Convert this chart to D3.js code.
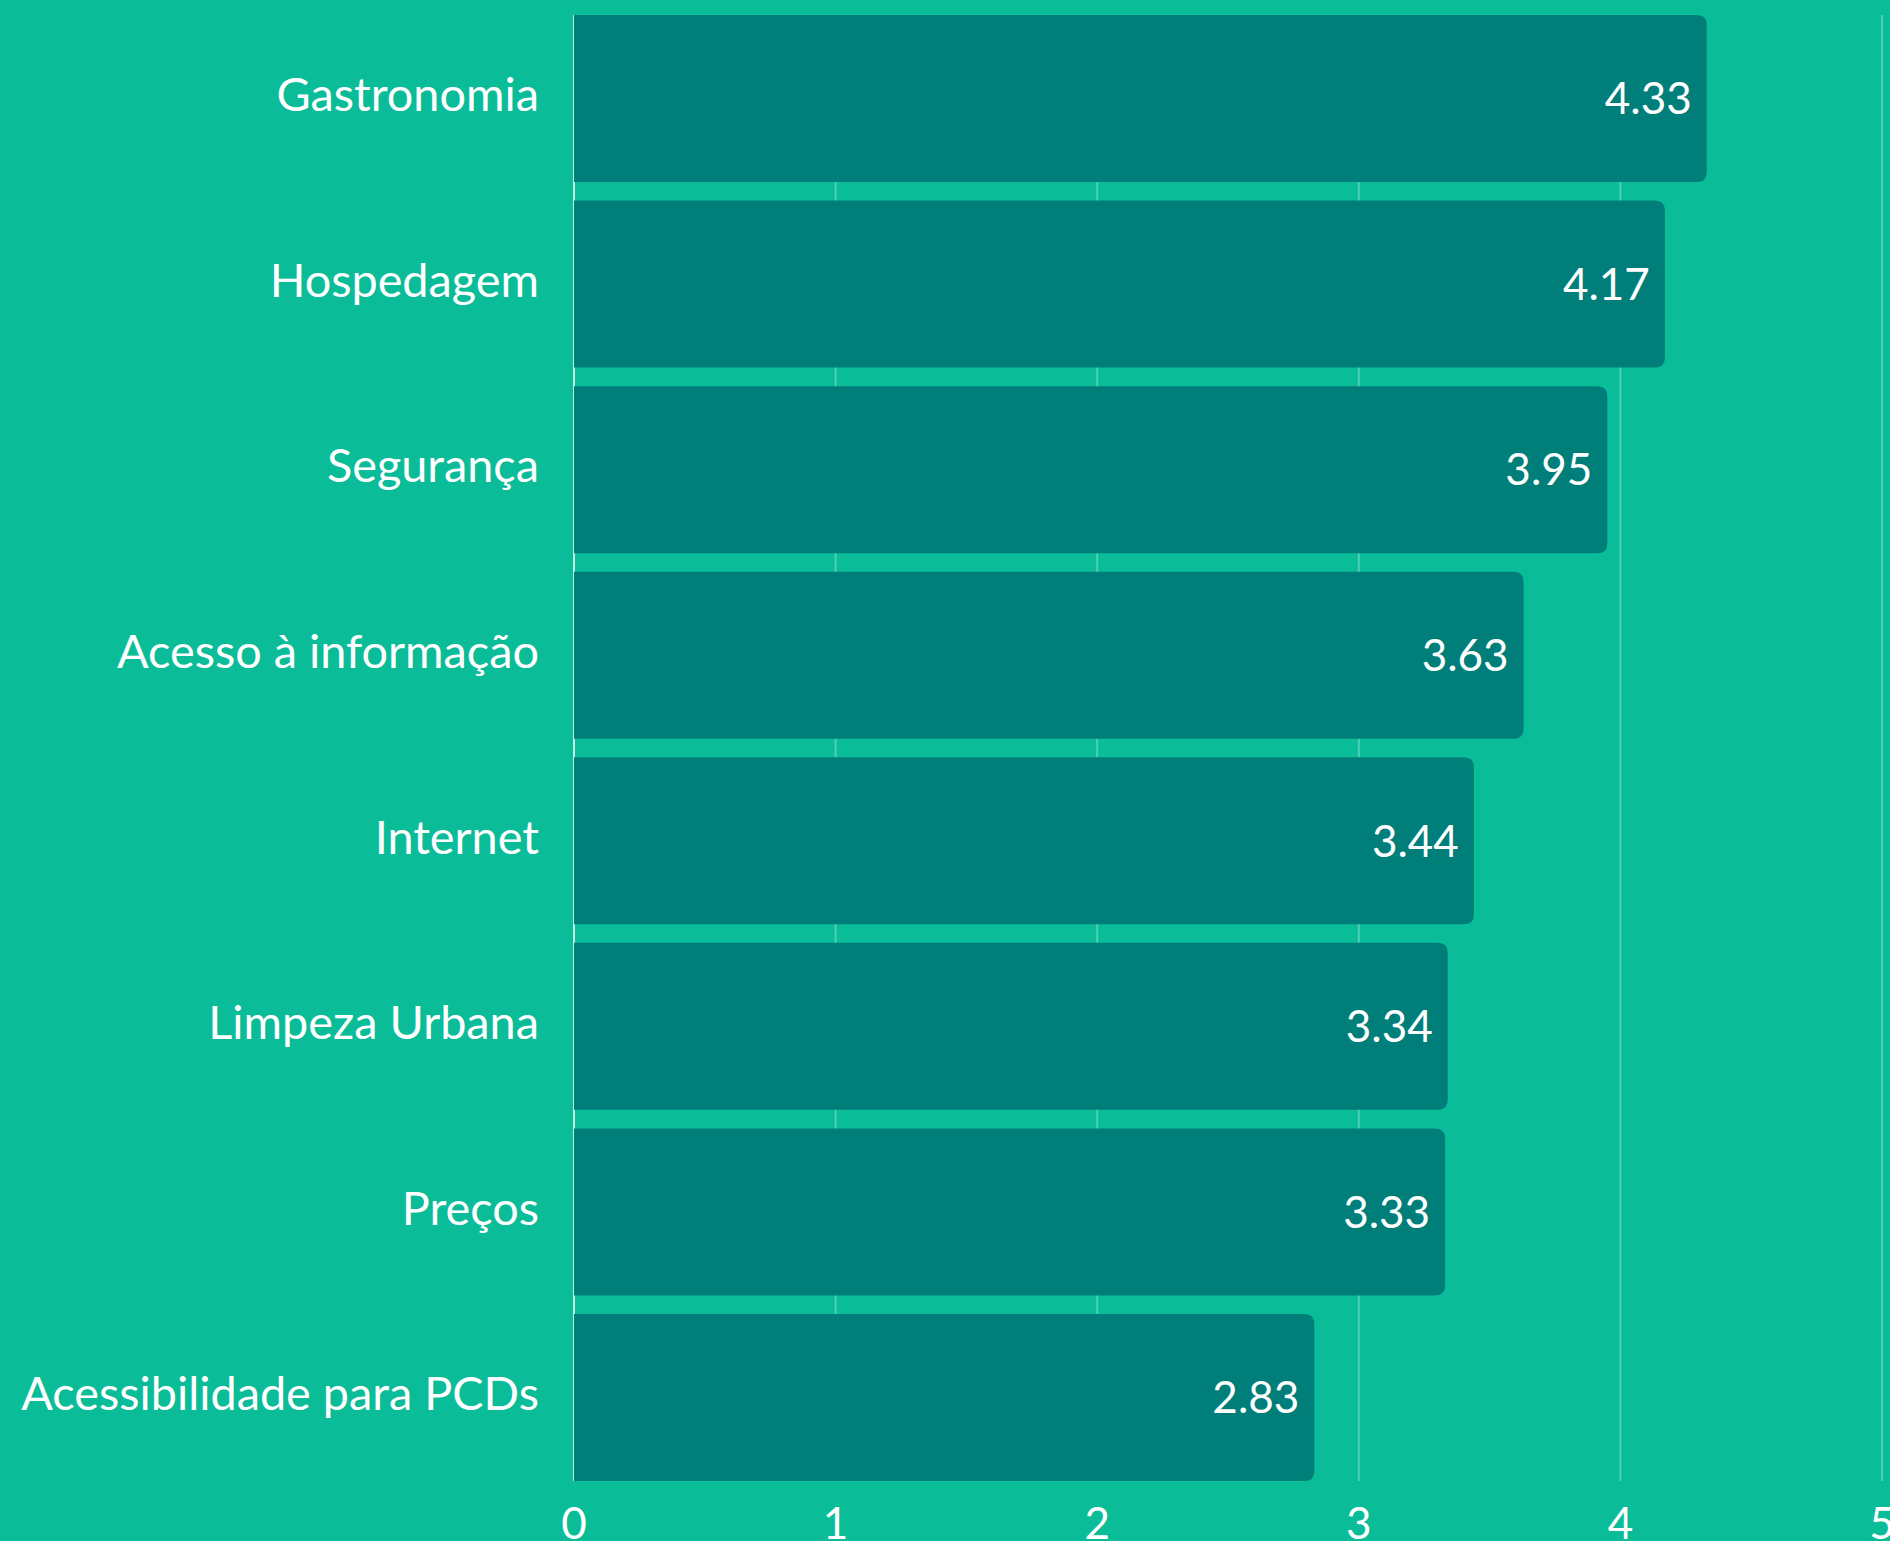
<!DOCTYPE html>
<html>
<head>
<meta charset="utf-8">
<script src="https://cdn.jsdelivr.net/npm/d3@7"></script>
<style>
  html, body { margin: 0; padding: 0; background: #0bbc98; overflow: hidden; }
  svg { display: block; }
  text { font-family: Lato, "Open Sans", sans-serif; fill: #ffffff; }
</style>
</head>
<body>
<svg id="chart" width="1890" height="1541"></svg>
<script>
const categories = ["Gastronomia", "Hospedagem", "Segurança", "Acesso à informação", "Internet", "Limpeza Urbana", "Preços", "Acessibilidade para PCDs"];
const values = [4.33, 4.17, 3.95, 3.63, 3.44, 3.34, 3.33, 2.83];
const xTicks = [0, 1, 2, 3, 4, 5];

const W = 1890, H = 1541;
const svg = d3.select("#chart");
svg.append("rect").attr("width", W).attr("height", H).attr("fill", "#0bbc98");

const x = d3.scaleLinear().domain([0, 5]).range([574, 1882]);
const y = d3.scaleBand().domain(categories).range([15, 1481]).paddingInner(0.1).paddingOuter(0);

// gridlines
svg.append("g").selectAll("line").data(xTicks).join("line")
  .attr("x1", d => x(d)).attr("x2", d => x(d))
  .attr("y1", 15).attr("y2", 1481)
  .attr("stroke", d => d === 0 ? "rgba(255,255,255,0.75)" : "rgba(255,255,255,0.28)")
  .attr("stroke-width", 2);

const data = categories.map((c, i) => ({ c, v: values[i] }));
const r = 10;
function barPath(d) {
  const x0 = x(0), x1 = x(d.v), y0 = y(d.c), h = y.bandwidth();
  return `M${x0},${y0}H${x1 - r}Q${x1},${y0} ${x1},${y0 + r}V${y0 + h - r}Q${x1},${y0 + h} ${x1 - r},${y0 + h}H${x0}Z`;
}
svg.append("g").selectAll("path").data(data).join("path")
  .attr("d", barPath)
  .attr("fill", "#007f7a");

// value labels
svg.append("g").selectAll("text").data(data).join("text")
  .attr("x", d => x(d.v) - 15)
  .attr("y", d => y(d.c) + y.bandwidth() / 2)
  .attr("dy", "0.36em")
  .attr("text-anchor", "end")
  .attr("font-size", 44)
  .text(d => d.v.toFixed(2));

// category labels
svg.append("g").selectAll("text").data(data).join("text")
  .attr("x", 539)
  .attr("y", d => y(d.c) + y.bandwidth() / 2 - 4)
  .attr("dy", "0.36em")
  .attr("text-anchor", "end")
  .attr("font-size", 46.8)
  .text(d => d.c);

// x axis tick labels
svg.append("g").selectAll("text").data(xTicks).join("text")
  .attr("x", d => x(d))
  .attr("y", 1539)
  .attr("text-anchor", "middle")
  .attr("font-size", 44)
  .text(d => d);
</script>
</body>
</html>
